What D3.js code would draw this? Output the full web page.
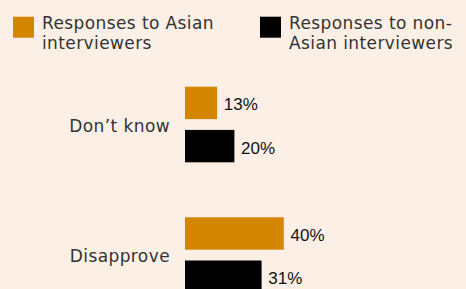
<!DOCTYPE html>
<html>
<head>
<meta charset="utf-8">
<script src="https://cdn.jsdelivr.net/npm/d3@7"></script>
<style>
  html, body { margin: 0; padding: 0; background: #fcf0e6; overflow: hidden; }
  svg { display: block; }
</style>
</head>
<body>
<svg id="chart"></svg>
<script>
/* Grouped horizontal bars: responses by interviewer ethnicity */

const categories = ["Don\u2019t know", "Disapprove"];
const seriesNames = ["Responses to Asian interviewers", "Responses to non-Asian interviewers"];
const asianValues = [13, 40];
const nonAsianValues = [20, 31];
const legendLines = [
    ["Responses to Asian", "interviewers"],
    ["Responses to non-", "Asian interviewers"]
];

const W = 466, H = 289;
const COLORS = ["#d48600", "#000000"];
const BG = "#fcf0e6";
const LABEL_FONT = "'DejaVu Sans', Verdana, sans-serif";

const svg = d3.select("#chart").attr("width", W).attr("height", H);
svg.append("rect").attr("width", W).attr("height", H).attr("fill", BG);

const rows = categories.map((c, i) => ({
    cat: c,
    vals: [asianValues[i], nonAsianValues[i]]
}));

// Scales
const x = d3.scaleLinear().domain([0, 100]).range([185, 185 + 247]);
const y = d3.scaleBand()
    .domain(categories)
    .range([86.7, 292.9])
    .paddingInner(0.421)
    .paddingOuter(0);
const yi = d3.scaleBand()
    .domain(seriesNames)
    .range([0, y.bandwidth()])
    .paddingInner(0.25);

// Legend
const legend = svg.append("g").attr("class", "legend");
const legendX = [13, 260];
seriesNames.forEach((s, i) => {
    const lg = legend.append("g").attr("transform", `translate(${legendX[i]}, 0)`);
    lg.append("rect")
        .attr("x", 0).attr("y", 16.7)
        .attr("width", 21).attr("height", 21)
        .attr("fill", COLORS[i]);
    const t = lg.append("text")
        .attr("font-family", LABEL_FONT)
        .attr("font-size", "17px")
        .attr("letter-spacing", "0.4px")
        .attr("fill", "#333333");
    legendLines[i].forEach((line, j) => {
        t.append("tspan")
            .attr("x", 29)
            .attr("y", 28.6 + j * 20.4)
            .text(line);
    });
});

// Groups
const groups = svg.selectAll(".grp")
    .data(rows)
    .enter()
    .append("g")
    .attr("class", "grp")
    .attr("transform", d => `translate(0, ${y(d.cat)})`);

// Category labels
groups.append("text")
    .attr("x", 170)
    .attr("y", y.bandwidth() / 2 + 7.2)
    .attr("text-anchor", "end")
    .attr("font-family", LABEL_FONT)
    .attr("font-size", "17px")
    .attr("letter-spacing", "0.4px")
    .attr("fill", "#333333")
    .text(d => d.cat);

// Bars
const bars = groups.selectAll(".bar")
    .data(d => d.vals.map((v, i) => ({ v, s: seriesNames[i], i })))
    .enter();

bars.append("rect")
    .attr("class", "bar")
    .attr("x", x(0))
    .attr("y", d => yi(d.s))
    .attr("width", d => x(d.v) - x(0))
    .attr("height", yi.bandwidth())
    .attr("fill", d => COLORS[d.i]);

// Value labels
bars.append("text")
    .attr("x", d => x(d.v) + 6.7)
    .attr("y", d => yi(d.s) + yi.bandwidth() / 2 + 7.6)
    .attr("font-family", "'Liberation Sans', Arial, sans-serif")
    .attr("font-size", "17px")
    .attr("fill", "#111111")
    .text(d => d.v + "%");
</script>
</body>
</html>
